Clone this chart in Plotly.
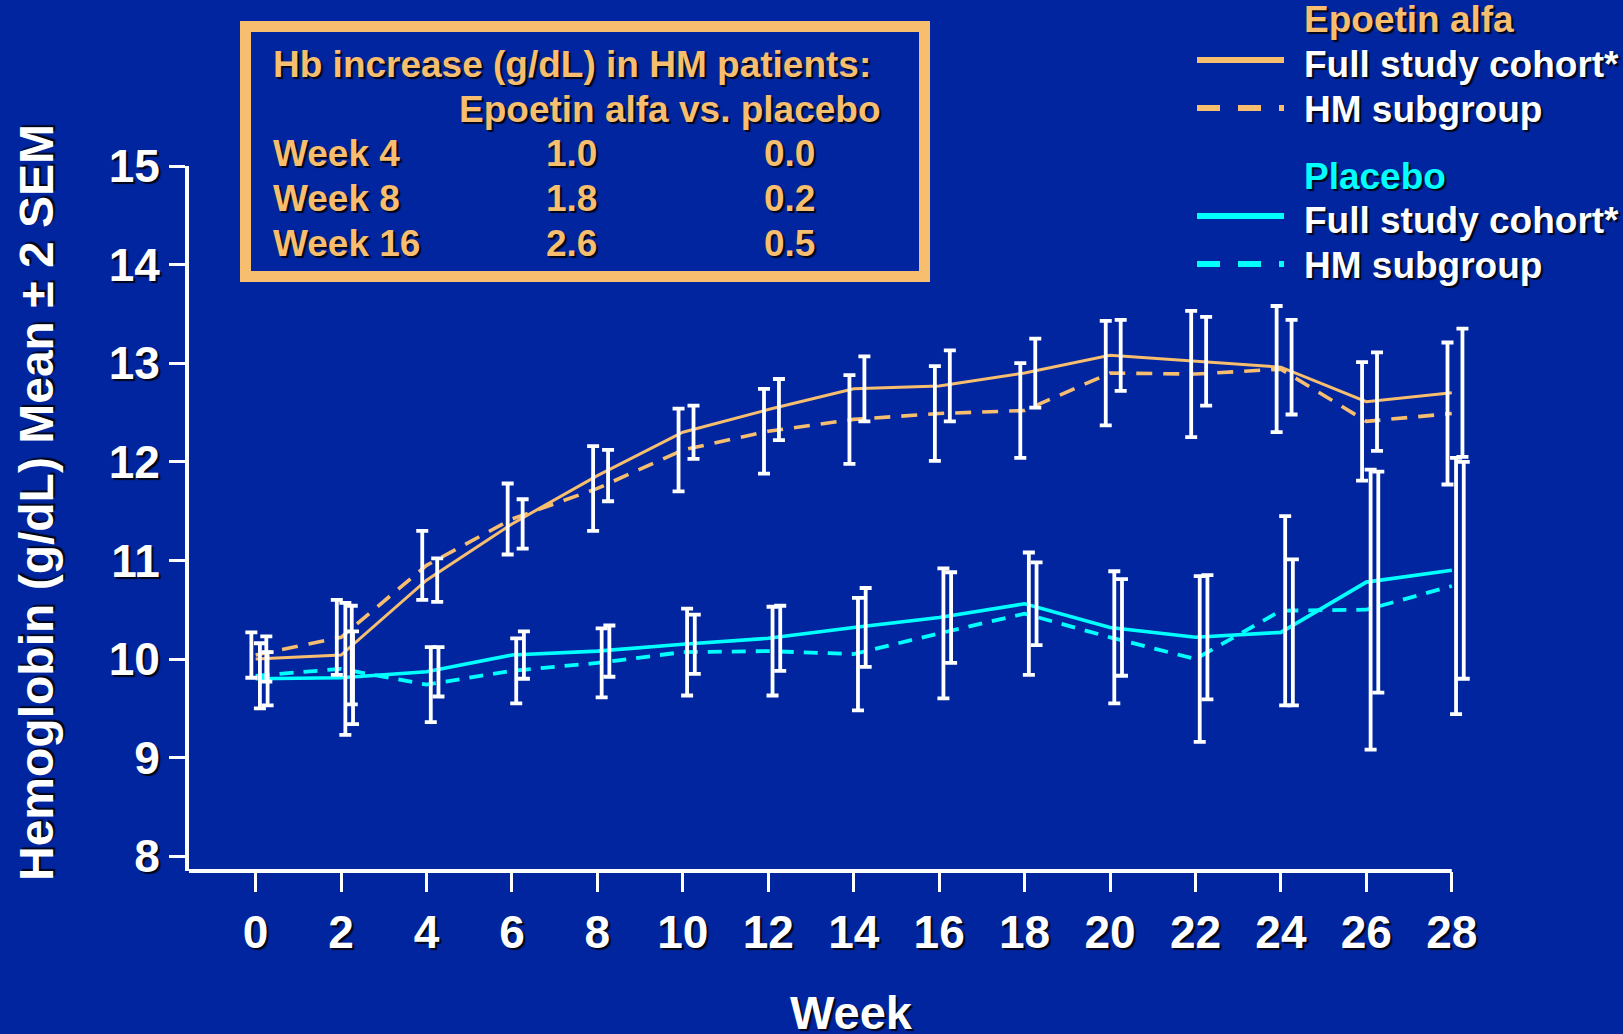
import plotly.graph_objects as go

# ---------------- data ----------------
weeks = [0, 2, 4, 6, 8, 10, 12, 14, 16, 18, 20, 22, 24, 26, 28]

epo_full = [10.00, 10.04, 10.80, 11.37, 11.86, 12.30, 12.53, 12.74, 12.77, 12.90, 13.08, 13.02, 12.96, 12.61, 12.70]
epo_full_err = [0.23, 0.50, 0.22, 0.25, 0.26, 0.27, 0.31, 0.33, 0.36, 0.35, 0.36, 0.45, 0.48, 0.50, 0.65]

epo_hm = [10.04, 10.22, 10.95, 11.42, 11.73, 12.12, 12.31, 12.43, 12.49, 12.52, 12.90, 12.89, 12.94, 12.41, 12.49]
epo_hm_err = [0.23, 0.38, 0.35, 0.36, 0.43, 0.42, 0.43, 0.45, 0.48, 0.48, 0.53, 0.64, 0.64, 0.60, 0.72]

pbo_full = [9.80, 9.81, 9.87, 10.04, 10.08, 10.15, 10.21, 10.32, 10.42, 10.56, 10.32, 10.22, 10.27, 10.78, 10.90]
pbo_full_err = [0.27, 0.47, 0.25, 0.24, 0.26, 0.30, 0.33, 0.40, 0.46, 0.42, 0.49, 0.63, 0.74, 1.12, 1.10]

pbo_hm = [9.83, 9.90, 9.74, 9.88, 9.96, 10.07, 10.08, 10.05, 10.26, 10.46, 10.22, 10.00, 10.49, 10.50, 10.74]
pbo_hm_err = [0.33, 0.67, 0.38, 0.33, 0.35, 0.44, 0.45, 0.57, 0.66, 0.62, 0.67, 0.84, 0.96, 1.42, 1.30]

y_ticks = [8, 9, 10, 11, 12, 13, 14, 15]
x_ticks = weeks

x_title = "Week"
y_title = "Hemoglobin (g/dL) Mean \u00b1 2 SEM"

inset_title = "Hb increase (g/dL) in HM patients:"
inset_header = "Epoetin alfa vs. placebo"
inset_rows = ["Week 4", "Week 8", "Week 16"]
inset_epo = ["1.0", "1.8", "2.6"]
inset_pbo = ["0.0", "0.2", "0.5"]

legend_groups = ["Epoetin alfa", "Placebo"]
legend_items = ["Full study cohort*", "HM subgroup"]

# ---------------- style ----------------
BG = "rgb(0,37,158)"
ORANGE = "rgb(246,190,110)"
CYAN = "rgb(0,255,255)"
WHITE = "white"
FONT = "Liberation Sans, Arial, Helvetica, sans-serif"
SHADOW = "2px 2px 1px rgba(0,0,0,0.85)"

W, H = 1623, 1034
X_MIN, X_AXIS_END, X_MAX = -1.56, 28.0, 28.45
L, T, B = 189, 166, 163
UNIT = 42.72  # px per week
R = W - L - int(round((X_MAX - X_MIN) * UNIT))
PW, PH = W - L - R, H - T - B


def px(x):
    return (x - L) / PW


def py(y):
    return 1 - (y - T) / PH


fig = go.Figure()

line_specs = [
    (epo_full, ORANGE, "solid", 3.0),
    (epo_hm, ORANGE, "16px,11px", 3.6),
    (pbo_full, CYAN, "solid", 3.6),
    (pbo_hm, CYAN, "14px,10px", 3.8),
]
for ys, col, dash, wd in line_specs:
    fig.add_trace(go.Scatter(x=weeks, y=ys, mode="lines",
                             line=dict(color=col, width=wd, dash=dash),
                             hoverinfo="skip", showlegend=False))

bar_specs = [
    (epo_hm, epo_hm_err, -0.10),
    (epo_full, epo_full_err, 0.25),
    (pbo_hm, pbo_hm_err, 0.10),
    (pbo_full, pbo_full_err, 0.28),
]
for ys, errs, off in bar_specs:
    fig.add_trace(go.Scatter(x=[w + off for w in weeks], y=ys, mode="markers",
                             marker=dict(size=1, opacity=0),
                             error_y=dict(type="data", array=errs, visible=True,
                                          color=WHITE, thickness=3.8, width=6),
                             cliponaxis=False, hoverinfo="skip", showlegend=False))

axis_font = dict(family=FONT, size=46, color=WHITE, weight="bold", shadow=SHADOW)

fig.update_xaxes(range=[X_MIN, X_MAX], tickvals=x_ticks, ticktext=[str(v) for v in x_ticks],
                 showline=False, showgrid=False, zeroline=False,
                 ticks="outside", ticklen=20, tickwidth=3, tickcolor=WHITE,
                 tickfont=axis_font, ticklabelstandoff=1)
fig.update_yaxes(range=[7.85, 15.0], tickvals=y_ticks, ticktext=[str(v) for v in y_ticks],
                 showline=True, linecolor=WHITE, linewidth=4, showgrid=False, zeroline=False,
                 ticks="outside", ticklen=16, tickwidth=3, tickcolor=WHITE,
                 tickfont=axis_font, ticklabelstandoff=0)

ann = []
# axis titles
ann.append(dict(x=px(852), y=py(1012), xref="paper", yref="paper", text=x_title,
                showarrow=False, xanchor="center", yanchor="middle",
                font=dict(family=FONT, size=47, color=WHITE, weight="bold", shadow=SHADOW)))
ann.append(dict(x=px(36), y=py(503), xref="paper", yref="paper", text=y_title, textangle=-90,
                showarrow=False, xanchor="center", yanchor="middle",
                font=dict(family=FONT, size=48, color=WHITE, weight="bold", shadow=SHADOW)))

# inset table
inset_font = dict(family=FONT, size=37, color=ORANGE, weight="bold", shadow=SHADOW)
ann.append(dict(x=px(271), y=py(65), xref="paper", yref="paper", text=inset_title,
                showarrow=False, xanchor="left", yanchor="middle", font=inset_font))
ann.append(dict(x=px(457), y=py(109), xref="paper", yref="paper", text=inset_header,
                showarrow=False, xanchor="left", yanchor="middle", font=inset_font))
row_y = [154, 198.5, 243]
for i, lab in enumerate(inset_rows):
    ann.append(dict(x=px(271), y=py(row_y[i]), xref="paper", yref="paper", text=lab,
                    showarrow=False, xanchor="left", yanchor="middle", font=inset_font))
    ann.append(dict(x=px(571), y=py(row_y[i]), xref="paper", yref="paper", text=inset_epo[i],
                    showarrow=False, xanchor="center", yanchor="middle", font=inset_font))
    ann.append(dict(x=px(789), y=py(row_y[i]), xref="paper", yref="paper", text=inset_pbo[i],
                    showarrow=False, xanchor="center", yanchor="middle", font=inset_font))

# custom legend
leg_font_w = dict(family=FONT, size=37, color=WHITE, weight="bold", shadow=SHADOW)
groups = [(legend_groups[0], ORANGE, 20, 64, 109), (legend_groups[1], CYAN, 176, 220, 265)]
shapes = []
for name, col, gy, y1, y2 in groups:
    ann.append(dict(x=px(1302), y=py(gy), xref="paper", yref="paper", text=name,
                    showarrow=False, xanchor="left", yanchor="middle",
                    font=dict(family=FONT, size=37, color=col, weight="bold", shadow=SHADOW)))
    ann.append(dict(x=px(1302), y=py(y1), xref="paper", yref="paper", text=legend_items[0],
                    showarrow=False, xanchor="left", yanchor="middle", font=leg_font_w))
    ann.append(dict(x=px(1302), y=py(y2), xref="paper", yref="paper", text=legend_items[1],
                    showarrow=False, xanchor="left", yanchor="middle", font=leg_font_w))
    shapes.append(dict(type="line", xref="paper", yref="paper",
                       x0=px(1197), x1=px(1284), y0=py(y1 - 4), y1=py(y1 - 4),
                       line=dict(color=col, width=6)))
    shapes.append(dict(type="line", xref="paper", yref="paper",
                       x0=px(1197), x1=px(1284), y0=py(y2 - 1), y1=py(y2 - 1),
                       line=dict(color=col, width=6, dash="23px,18px")))

# x axis line that stops at the last tick
shapes.append(dict(type="line", xref="x", yref="paper", x0=X_MIN, x1=X_AXIS_END, y0=0, y1=0,
                   line=dict(color=WHITE, width=4), layer="above"))

# inset frame
shapes.append(dict(type="rect", xref="paper", yref="paper",
                   x0=px(245.5), x1=px(924.5), y0=py(26.5), y1=py(276.5),
                   line=dict(color=ORANGE, width=11), fillcolor="rgba(0,0,0,0)"))

fig.update_layout(width=W, height=H, margin=dict(l=L, r=R, t=T, b=B),
                  paper_bgcolor=BG, plot_bgcolor=BG, showlegend=False,
                  annotations=ann, shapes=shapes)

fig.write_html("out.html", config={"displayModeBar": False, "staticPlot": True},
               post_script="document.body.style.margin='0';document.body.style.background='" + BG + "';")
